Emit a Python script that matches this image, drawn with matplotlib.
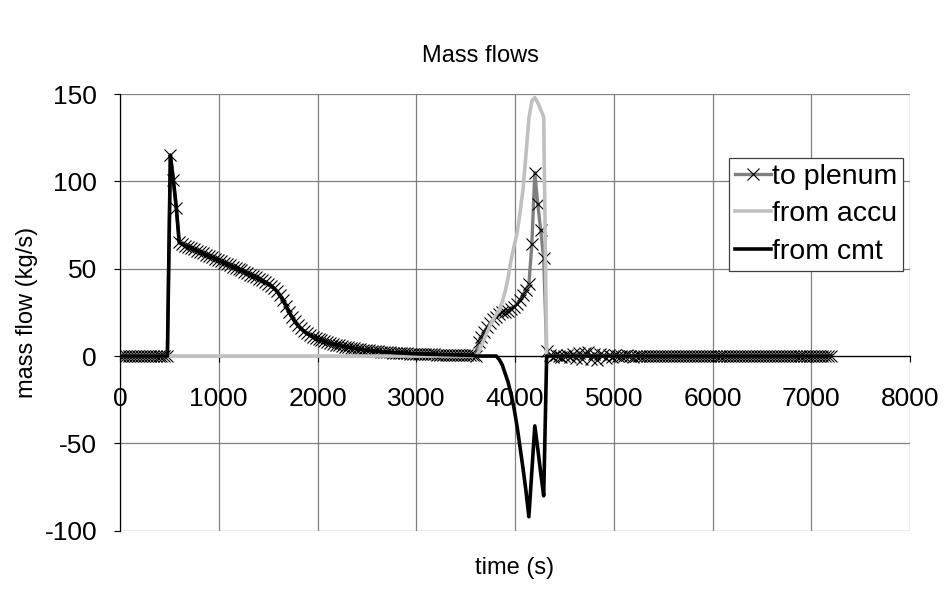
import numpy as np
import matplotlib
matplotlib.use("Agg")
import matplotlib.pyplot as plt

plt.rcParams["font.family"] = ["Liberation Sans", "DejaVu Sans"]

# sample times (s), one point every 30 s
time_s = np.arange(0, 7201, 30)

# ---- to plenum (kg/s) ----
plenum_pre = [0.0] * 17  # 0 .. 480 s
plenum_blowdown = [  # 510 .. 3570 s
    115, 101, 85, 65,
    64, 63.2, 62.5, 61.8, 61, 60.3, 59.5, 58.8, 58, 57.3,
    56.5, 55.8, 55, 54.3, 53.5, 52.8, 52, 51.2, 50.5, 49.7,
    49, 48.2, 47.4, 46.6, 45.8, 45, 44.2, 43.3, 42.4, 41.5,
    40.3, 38.8, 37, 34.8, 32, 28.8, 25.5, 22.4, 19.8, 17.6,
    15.8, 14.3, 13, 12, 11.1, 10.3, 9.6, 9, 8.4, 7.9,
    7.4, 6.9, 6.5, 6.1, 5.7, 5.3, 5, 4.7, 4.4, 4.1,
    3.9, 3.6, 3.4, 3.2, 3, 2.8, 2.7, 2.5, 2.4, 2.2,
    2.1, 2, 1.9, 1.8, 1.7, 1.6, 1.5, 1.4, 1.3, 1.25,
    1.2, 1.1, 1.05, 1, 0.95, 0.9, 0.85, 0.8, 0.75, 0.7,
    0.65, 0.6, 0.57, 0.53, 0.5, 0.47, 0.44, 0.4, 0.38,
]
plenum_refill = [  # 3600 .. 4320 s
    0.3, 8, 11, 14, 16.5, 19, 21, 22.5, 24, 25,
    25.5, 26, 27, 28, 30, 32, 35, 38, 41, 64,
    105, 87, 72, 56, 3,
]
plenum_late = [  # 4350 .. 7200 s
    0.4, -0.3, 0.6, 0.2, -0.4, 0.3, 0.8, -0.5, 1.2, -1.0,
    2.0, -1.8, 1.6, 2.2, -1.5, 1.4, -2.0, 1.0, 0.6, -1.2,
    0.7, -0.5, 0.4, -0.2, 0.3, -0.1, 0.4, 0.0, -0.3, 0.2,
    0.1, -0.2, 0.3, -0.1, 0.2, 0.0, -0.2, 0.1, 0.2, -0.1,
    0.0, 0.2, -0.2, 0.1, 0.0, -0.1, 0.2, 0.1, -0.1, 0.0,
    0.1, -0.1, 0.2, 0.0, -0.1, 0.1, 0.0, -0.1, 0.1, 0.0,
    0.1, -0.1, 0.0, 0.1, 0.0, -0.1, 0.1, 0.0, 0.0, 0.1,
    -0.1, 0.0, 0.1, 0.0, -0.1, 0.0, 0.1, 0.0, 0.0, -0.1,
    0.1, 0.0, 0.0, 0.1, -0.1, 0.0, 0.0, 0.1, 0.0, -0.1,
    0.0, 0.1, 0.0, 0.0, -0.1, 0.0,
]

# ---- from accu (kg/s) ----
accu_refill = [  # 3600 .. 4320 s
    0, 2, 6, 10, 14, 18, 21, 24, 26, 31,
    37, 45, 55, 63, 70, 82, 95, 115, 136, 146,
    148, 145, 141, 137, 0,
]

# ---- from cmt (kg/s) ----
cmt_refill = [  # 3600 .. 4320 s
    0, 0, 0, 0, 0, 0, 0, 0, -2, -5,
    -10, -15, -22, -30, -40, -52, -64, -77, -92, -66,
    -40, -53, -67, -80, 0,
]

n_early = len(plenum_pre) + len(plenum_blowdown)
plenum = np.array(plenum_pre + plenum_blowdown + plenum_refill + plenum_late, dtype=float)
accu = np.array([0.0] * n_early + accu_refill + [0.0] * len(plenum_late))
cmt = np.array(plenum_pre + plenum_blowdown + cmt_refill + [0.0] * len(plenum_late), dtype=float)

x_ticks = np.arange(0, 8001, 1000)
y_ticks = [-100, -50, 0, 50, 100, 150]
y_labels = ["-100", "-50", "0", "50", "100", "150"]

fig = plt.figure(figsize=(9.44, 5.95), dpi=100)
ax = fig.add_axes([0.1271, 0.108, 0.837, 0.734])

ax.plot(time_s, plenum, color="#808080", lw=2.4, marker="x", ms=8.5,
        mec="black", mew=0.8, label="to plenum", zorder=3)
ax.plot(time_s, accu, color="#c0c0c0", lw=2.6, label="from accu", zorder=4)
ax.plot(time_s, cmt, color="black", lw=2.6, label="from cmt", zorder=5)

ax.set_xlim(0, 8000)
ax.set_ylim(-100, 150)
ax.set_xticks(x_ticks)
ax.set_yticks(y_ticks)
ax.set_yticklabels(y_labels)
ax.grid(True, color="#808080", lw=0.9)
ax.set_axisbelow(True)

ax.spines["bottom"].set_position(("data", 0))
ax.spines["top"].set_visible(False)
ax.spines["right"].set_visible(False)
for s in ("bottom", "left"):
    ax.spines[s].set_color("black")
    ax.spines[s].set_linewidth(0.9)
    ax.spines[s].set_zorder(2)

ax.tick_params(axis="y", labelsize=19, length=4.5, pad=12, direction="out")
ax.tick_params(axis="x", labelsize=19, length=4.5, pad=18, direction="out")

fig.text(480 / 944, 1 - 56 / 595, "Mass flows", ha="center", va="center", fontsize=17)
fig.text(515 / 944, 1 - 568 / 595, "time (s)", ha="center", va="center", fontsize=17)
fig.text(27 / 944, 1 - 312 / 595, "mass flow (kg/s)", ha="center", va="center",
         rotation=90, fontsize=17)

leg = ax.legend(loc="upper right", bbox_to_anchor=(903 / 944, 1 - 158 / 595),
                bbox_transform=fig.transFigure, fontsize=20.5, frameon=True,
                fancybox=False, framealpha=1, edgecolor="#404040",
                handlelength=1.25, handletextpad=0.05, labelspacing=0.41,
                borderpad=0.2, borderaxespad=0)
leg.get_frame().set_linewidth(0.9)

plt.savefig("out.png", dpi=100)
